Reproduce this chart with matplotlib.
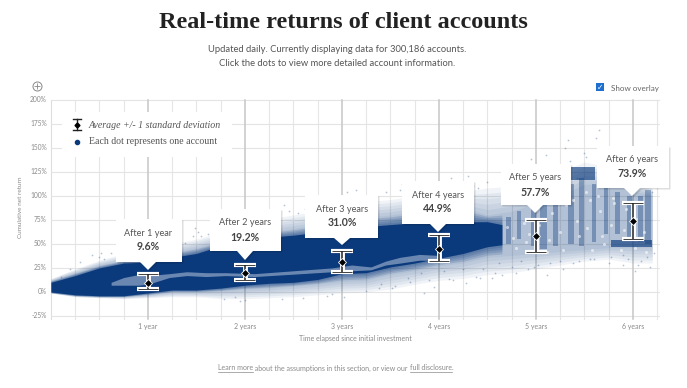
import matplotlib
matplotlib.use("Agg")
import matplotlib.pyplot as plt
import numpy as np
from matplotlib.patches import Polygon, Rectangle

navy = "#0b3a7c"
grey = "#8a8a8a"
W, H = 687, 388

# envelopes (years, cumulative return %)
dense_x = [0, .25, .5, .75, 1, 1.25, 1.5, 1.75, 2, 2.25, 2.5, 2.75, 3, 3.25, 3.5, 3.75, 4, 4.25, 4.5, 4.65]
dense_top = [10, 17, 25, 30, 31, 36, 40, 48, 55, 57, 59, 62, 65, 68, 70, 72, 73, 73, 73, 70]
dense_bot = [0, -3, -4, -4, -1, 2, 2, 4, 7, 9, 10, 13, 19, 20, 26, 30, 35, 40, 47, 49]

mid_x = [0, .25, .5, .75, 1, 1.25, 1.5, 1.75, 2, 2.25, 2.5, 2.75, 3, 3.25, 3.5, 3.75, 4, 4.25, 4.5, 4.75, 5, 5.25, 5.5, 5.75, 6, 6.2]
mid_top = [12, 20, 28, 33, 36, 41, 46, 53, 60, 63, 66, 70, 75, 78, 80, 84, 86, 88, 80, 84, 92, 100, 112, 112, 105, 100]
mid_bot = [-1, -4, -5, -5, -3, 0, 0, 1, 3, 4, 6, 8, 11, 12, 18, 22, 27, 30, 36, 38, 40, 42, 44, 46, 46, 46]

outer_top = [14, 24, 33, 40, 44, 50, 55, 62, 70, 76, 80, 84, 90, 94, 96, 100, 102, 104, 108, 110, 116, 125, 135, 130, 120, 108]
outer_bot = [-1, -5, -6, -7, -6, -5, -5, -7, -7, -6, -5, -3, -1, 0, 3, 8, 12, 14, 18, 20, 24, 28, 32, 34, 30, 30]

# pale gaps inside the dense cloud
gap_x = [.62, .75, .9, 1.0, 1.22, 1.4, 1.6, 1.8, 2.1, 2.9, 3.1, 3.3, 3.45, 3.6, 3.8, 4.0]
gap_top = [10, 15, 18, 17, 19, 21, 20, 20, 19, 25, 28, 26, 32, 36, 39, 38]
gap_bot = [7, 7, 7, 8, 15, 17, 16, 17, 16, 21, 22, 23, 28, 30, 33, 33]

# vertical streaks and solid blocks on the right side
streak_x = [4.72, 4.83, 4.98, 5.08, 5.2, 5.36, 5.47, 5.6, 5.72, 5.84, 5.97, 6.08, 6.16]
streak_w = [.05, .04, .05, .07, .05, .06, .06, .05, .04, .05, .05, .05, .06]
streak_lo = [50, 55, 48, 45, 48, 50, 48, 52, 60, 60, 55, 52, 50]
streak_hi = [78, 84, 88, 100, 95, 112, 118, 112, 108, 104, 100, 100, 106]
block_x = [5.35, 5.78]
block_w = [.26, .42]
block_lo = [116, 47]
block_hi = [130, 54]

# stray dots
dot_x = [.1, .2, .3, .42, .5, .55, .62, .7, .78, .85, .95, 1.02, 1.1, 1.2, 1.3, 1.38, 1.46, 1.55, 1.62, 1.7,
         1.78, 1.85, 1.95, 2.05, 2.12, 2.2, 2.3, 2.38, 2.45, 2.55, 2.62, 2.7, 2.78, 2.85, 2.95, 3.02, 3.1, 3.2, 3.3, 3.38,
         3.45, 3.52, 3.6, 3.7, 3.78, 3.85, 3.95, 4.02, 4.1, 4.2, 4.28, 4.35, 4.42, 4.5, 4.58, 4.65, 4.72, 4.8, 4.9, 4.98,
         5.05, 5.12, 5.2, 5.28, 5.35, 5.45, 5.52, 5.6, 5.68, 5.75, 5.82, 5.9, 5.98, 6.05, 6.12, 6.18,
         .52, .78, 1.48, 1.52, 2.4, 2.82, 3.15, 3.62, 3.72, 4.12, 4.3, 4.4, 4.7, 4.95, 5.3, 5.33, 5.5, 5.62, 5.65, 5.9, 6.02, 6.22, 6.1, 5.1,
         1.9, 2.0, 2.15, 2.25, 2.6, 2.75, 2.9, 3.05, 3.25, 3.4, 3.55, 3.68, 3.82, 3.9, 4.05, 4.15, 4.25, 4.38, 4.45, 4.55,
         4.62, 4.75, 4.85, 4.92, 5.02, 5.15, 5.25, 5.38, 5.42, 5.56, 5.7, 5.78, 5.85, 5.95, 6.0, 6.08, 6.15, 6.2, 4.68, 4.78]
dot_y = [16, 24, 31, 38, 36, 34, 40, 40, 44, 29, 44, 48, 50, 43, 52, 51, 58, 58, 60, 64,
         -7, 66, -9, 72, 74, 76, 80, -7, 84, 82, 86, 84, 92, -4, 94, -5, 98, 96, 100, 4,
         104, 4, 106, 10, 108, -1, 5, 110, 13, 112, 9, 110, 15, 114, 20, 18, 118, 20, 122, 26,
         126, 18, 130, 24, 136, 32, 140, 34, 146, 30, 150, 38, 134, 28, 128, 26,
         40, 50, 66, 62, 90, 98, 106, 112, 100, 118, 120, 108, 124, 138, 150, 158, 144, 160, 168, 28, 22, 40, 120, 142,
         -5, -8, 78, 70, -6, 88, -2, 104, 1, 8, 6, 14, 20, 12, 22, 12, 24, 16, 24, 15,
         30, 26, 32, 24, 28, 30, 32, 30, 118, 34, 132, 36, 126, 34, 118, 32, 36, 104, 102, 112]

# pale specks inside the loose part of the cloud
speck_x = [4.7, 4.76, 4.88, 4.93, 5.03, 5.14, 5.17, 5.25, 5.31, 5.42, 5.53, 5.56, 5.66, 5.68, 5.78, 5.81, 5.91, 5.93, 6.03, 6.12,
           4.8, 4.9, 5.0, 5.12, 5.28, 5.44, 5.58, 5.7, 5.88, 6.02, 6.14, 5.22, 5.38, 5.52, 5.64, 5.8]
speck_y = [68, 56, 72, 60, 70, 54, 82, 62, 90, 74, 66, 96, 84, 58, 70, 92, 64, 86, 76, 62,
           46, 52, 58, 42, 44, 58, 44, 50, 44, 46, 42, 102, 96, 104, 100, 98]

years = [1, 2, 3, 4, 5, 6]
avg = [9.6, 19.2, 31.0, 44.9, 57.7, 73.9]
upper = [18.6, 28, 43, 59, 75, 92]
lower = [3, 12.5, 21, 32, 41, 55]
avg_labels = ["9.6%", "19.2%", "31.0%", "44.9%", "57.7%", "73.9%"]
year_labels = ["1 year", "2 years", "3 years", "4 years", "5 years", "6 years"]
box_labels = ["After 1 year", "After 2 years", "After 3 years", "After 4 years", "After 5 years", "After 6 years"]
y_ticks = [-25, 0, 25, 50, 75, 100, 125, 150, 175, 200]
y_tick_labels = ["-25%", "0%", "25%", "50%", "75%", "100%", "125%", "150%", "175%", "200%"]

# callout layout in pixels: left, right, top, bottom, tip
boxes = [(116, 182, 219, 262, 270), (210, 281, 209, 251, 260), (305, 378, 195, 238, 245),
         (402, 474, 181, 224, 232), (501, 571, 164, 205, 213), (597, 669, 146, 188, 196)]
box_cx = [148, 245, 342, 438, 535, 632]

fig = plt.figure(figsize=(W / 100, H / 100), dpi=100)
ax = fig.add_axes([51 / W, 1 - 316 / H, 608 / W, 216.5 / H])
ax.set_xlim(0, 6.27)
ax.set_ylim(-25, 200)
for s in ax.spines.values():
    s.set_visible(False)
ax.set_xticks([])
ax.set_yticks([])

# grid
for i in range(1, 26):
    q = i * .25
    if q > 6.27:
        break
    if i % 4:
        ax.plot([q, q], [-28, 200], color="#e6e6e6", lw=.8, zorder=1, clip_on=False)
ax.plot([0, 0], [-28, 200], color="#dddddd", lw=.8, zorder=1, clip_on=False)
ax.plot([6.27, 6.27], [-25, 200], color="#e6e6e6", lw=.8, zorder=1)
for t in y_ticks:
    ax.plot([0, 6.27], [t, t], color="#e4e4e4", lw=.8, zorder=1, clip_on=False)
for y in years:
    ax.plot([y, y], [-28, 200], color="#c6c6c6", lw=1.1, zorder=1.2, clip_on=False)

# account cloud: stacked translucent layers fade the edge between the read envelopes
mid_top_a, mid_bot_a = np.array(mid_top, float), np.array(mid_bot, float)
out_top_a, out_bot_a = np.array(outer_top, float), np.array(outer_bot, float)
for f in [1, .8, .6, .4, .2, 0]:
    ax.fill_between(mid_x, mid_bot_a + f * (out_bot_a - mid_bot_a), mid_top_a + f * (out_top_a - mid_top_a),
                    color=navy, alpha=.06, lw=0, zorder=2)
ax.bar(streak_x, [h - l for h, l in zip(streak_hi, streak_lo)], streak_w, streak_lo, color=navy, alpha=.36, lw=0, zorder=2.2)
ax.bar(block_x, [h - l for h, l in zip(block_hi, block_lo)], block_w, block_lo, color=navy, alpha=.65, lw=0, align="edge", zorder=2.3)
d_mid_top = np.interp(dense_x, mid_x, mid_top)
d_mid_bot = np.interp(dense_x, mid_x, mid_bot)
d_top, d_bot = np.array(dense_top, float), np.array(dense_bot, float)
for f in [.8, .6, .4, .2]:
    ax.fill_between(dense_x, d_bot + f * (d_mid_bot - d_bot), d_top + f * (d_mid_top - d_top),
                    color=navy, alpha=.16, lw=0, zorder=2.35)
ax.fill_between(dense_x, dense_bot, dense_top, color=navy, lw=0, zorder=2.4)
ax.fill_between(gap_x, gap_bot, gap_top, color="#c9d5e6", alpha=.5, lw=0, zorder=2.5)
ax.scatter(speck_x, speck_y, s=5, color="white", alpha=.55, lw=0, zorder=2.55)
ax.scatter(dot_x, dot_y, s=1.6, color=navy, alpha=.3, lw=0, zorder=2.6)

# error bars with white halo
ax.errorbar(years, avg, yerr=[[a - l for a, l in zip(avg, lower)], [u - a for u, a in zip(upper, avg)]],
            fmt="none", ecolor="white", elinewidth=3.5, capsize=8, capthick=3, zorder=3)
ax.errorbar(years, avg, yerr=[[a - l for a, l in zip(avg, lower)], [u - a for u, a in zip(upper, avg)]],
            fmt="D", color="black", ms=4.2, mec="white", mew=.6, ecolor="#222222", elinewidth=1.1, capsize=7, capthick=1.1, zorder=3.1)

# labels on axes
for t, lab in zip(y_ticks, y_tick_labels):
    ax.annotate(lab, (0, t), xytext=(-4, 0), textcoords="offset pixels", ha="right", va="center",
                fontsize=4.8, color=grey, family="Lato", annotation_clip=False)
for y, lab in zip(years, year_labels):
    ax.annotate(lab, (y, -25), xytext=(0, -11), textcoords="offset pixels", ha="center", va="center",
                fontsize=5, color=grey, family="Lato", annotation_clip=False)


def px(x, y):
    return x / W, 1 - y / H


# callouts drawn on the figure so they overflow the axes
for (l, r, t, b, tip), cx, head, val in zip(boxes, box_cx, box_labels, avg_labels):
    pts = [px(l, t), px(r, t), px(r, b), px(cx + 8, b), px(cx, tip), px(cx - 8, b), px(l, b)]
    fig.add_artist(Polygon([(x + 1.5 / W, y - 1.5 / H) for x, y in pts], closed=True, transform=fig.transFigure,
                           fc="#000000", alpha=.13, lw=0, zorder=5))
    fig.add_artist(Polygon(pts, closed=True, transform=fig.transFigure, fc="white", lw=0, zorder=5.1))
    fig.text(*px(cx, t + 14), head, ha="center", va="center", fontsize=6.6, color="#555555", family="Lato", zorder=6)
    fig.text(*px(cx, t + 28), val, ha="center", va="center", fontsize=7.6, color="#444444", family="Lato",
             weight="bold", zorder=6)

# legend
fig.add_artist(Rectangle(px(62, 157), 170 / W, 45 / H, transform=fig.transFigure, fc="white", lw=0, zorder=5))
fig.add_artist(plt.Line2D([77 / W, 77 / W], [1 - 119 / H, 1 - 130 / H], color="#222222", lw=1, zorder=6))
for yy in (119, 130):
    fig.add_artist(plt.Line2D([73 / W, 81 / W], [1 - yy / H, 1 - yy / H], color="#222222", lw=1, zorder=6))
fig.add_artist(plt.Line2D([77 / W], [1 - 124.5 / H], marker="D", ms=2.5, color="black", zorder=6))
fig.add_artist(plt.Line2D([77 / W], [1 - 142 / H], marker="o", ms=3, color=navy, zorder=6))
fig.text(*px(89, 125), "Average +/- 1 standard deviation", ha="left", va="center", fontsize=7.1,
         color="#555555", family="Liberation Serif", style="italic", zorder=6)
fig.text(*px(89, 142), "Each dot represents one account", ha="left", va="center", fontsize=7.1,
         color="#555555", family="Liberation Serif", zorder=6)

# header
fig.text(*px(343, 23), "Real-time returns of client accounts", ha="center", va="center", fontsize=17.5,
         weight="bold", color="#222222", family="Liberation Serif")
fig.text(*px(337, 49), "Updated daily. Currently displaying data for 300,186 accounts.", ha="center", va="center",
         fontsize=6.75, color="#555555", family="Lato")
fig.text(*px(337, 64), "Click the dots to view more detailed account information.", ha="center", va="center",
         fontsize=6.75, color="#555555", family="Lato")

# zoom icon and overlay checkbox
fig.add_artist(plt.Line2D([37 / W], [1 - 86 / H], marker="o", ms=6.5, mfc="none", mec="#888888", mew=.7))
fig.add_artist(plt.Line2D([37 / W], [1 - 86 / H], marker="+", ms=4.5, color="#888888", mew=.6))
fig.add_artist(Rectangle(px(596, 91), 8 / W, 8 / H, transform=fig.transFigure, fc="#1e6fd0", lw=0))
fig.text(*px(600, 87), "\u2713", ha="center", va="center", fontsize=5.5, color="white", family="DejaVu Sans")
fig.text(*px(611, 88), "Show overlay", ha="left", va="center", fontsize=5.8, color="#666666", family="Lato")

# axis titles
fig.text(*px(21, 207), "Cumulative net return", rotation=90, ha="center", va="center", fontsize=4.6,
         color=grey, family="Lato")
fig.text(*px(355, 338), "Time elapsed since initial investment", ha="center", va="center", fontsize=5,
         color=grey, family="Lato")

# footer, pieces side by side so two of them can be underlined
footer = [("Learn more", True), (" about the assumptions in this section, or view our ", False),
          ("full disclosure", True), (".", False)]
fig.canvas.draw()
rend = fig.canvas.get_renderer()
xpos = 218
for part, link in footer:
    t = fig.text(*px(xpos, 368), part.replace(" ", "\u00a0"), ha="left", va="center", fontsize=5.05, color=grey, family="Lato")
    bb = t.get_window_extent(rend)
    if link:
        fig.add_artist(plt.Line2D([bb.x0 / W, bb.x1 / W], [1 - 371.5 / H, 1 - 371.5 / H], color=grey, lw=.5))
    xpos = bb.x1

fig.savefig("out.png", dpi=100)
